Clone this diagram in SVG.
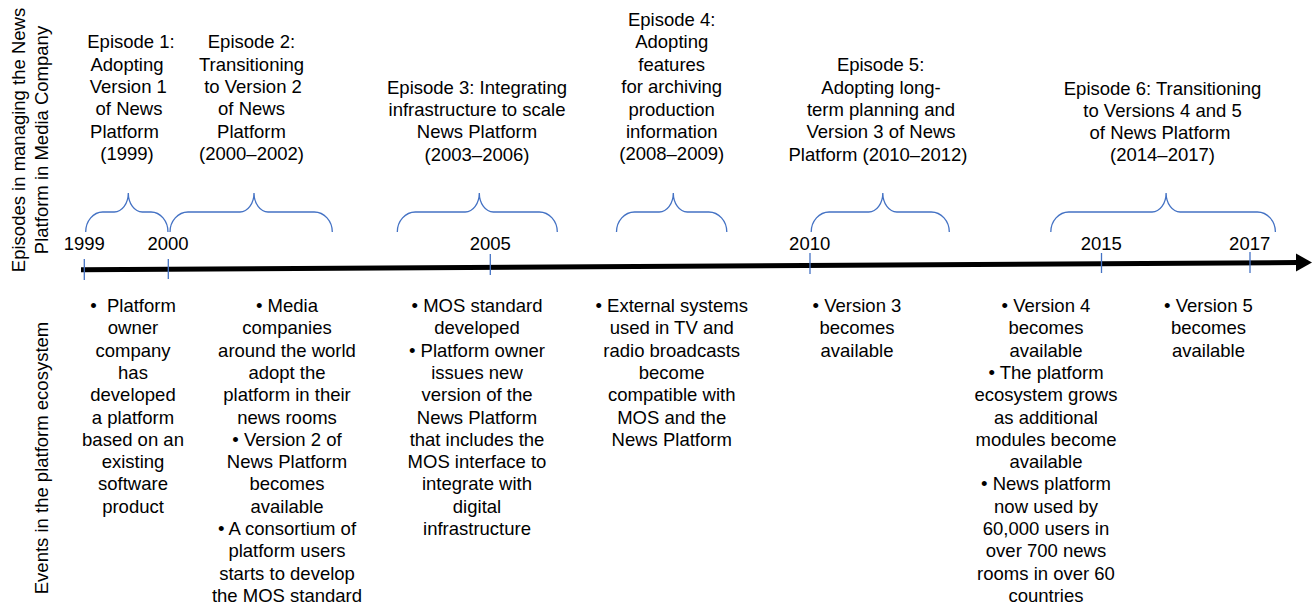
<svg xmlns="http://www.w3.org/2000/svg" width="1312" height="605" viewBox="0 0 1312 605">
<style>
text{font-family:"Liberation Sans",Arial,sans-serif;font-size:18.5px;fill:#000;text-anchor:middle}
.brace{fill:none;stroke:#4472C4;stroke-width:1.3}
.tick{stroke:#4472C4;stroke-width:1.3}
</style>
<rect width="1312" height="605" fill="#fff"/>
<g id="axis-labels">
<text transform="translate(25,140) rotate(-90)">Episodes in managing the News</text>
<text transform="translate(48,140) rotate(-90)">Platform in Media Company</text>
<text transform="translate(48,458) rotate(-90)">Events in the platform ecosystem</text>
</g>
<g id="connectors">
<line x1="81" y1="269.8" x2="1298" y2="262.6" stroke="#000" stroke-width="5"/>
<polygon points="1296,253.5 1312,262.5 1296,271.5" fill="#000"/>
<line class="tick" x1="84.3" y1="259" x2="84.3" y2="280"/>
<line class="tick" x1="168.3" y1="259" x2="168.3" y2="279"/>
<line class="tick" x1="490.3" y1="254" x2="490.3" y2="275"/>
<line class="tick" x1="810" y1="253" x2="810" y2="274"/>
<line class="tick" x1="1101.5" y1="253" x2="1101.5" y2="273"/>
<line class="tick" x1="1250" y1="252" x2="1250" y2="273"/>
</g>
<g id="years">
<text x="84.3" y="250">1999</text>
<text x="168" y="250">2000</text>
<text x="490.3" y="250">2005</text>
<text x="809.7" y="250">2010</text>
<text x="1101.3" y="250">2015</text>
<text x="1249.7" y="250">2017</text>
</g>
<g id="episode1">
<path class="brace" d="M85.7,232 A17,20 0 0 1 102.7,212 L114.3,212 A14,19 0 0 0 128.3,193 A14,19 0 0 0 142.3,212 L151,212 A17,20 0 0 1 168,232"/>
<text y="48.3"><tspan x="131">Episode 1:</tspan><tspan x="127" dy="22.3">Adopting</tspan><tspan x="128.3" dy="22.3">Version 1</tspan><tspan x="129" dy="22.3">of News</tspan><tspan x="124.5" dy="22.3">Platform</tspan><tspan x="127" dy="22.3">(1999)</tspan></text>
</g>
<g id="episode2">
<path class="brace" d="M170,232 A18,20 0 0 1 188,212 L240,212 A14,19 0 0 0 254,193 A14,19 0 0 0 268,212 L314.3,212 A18,20 0 0 1 332.3,232"/>
<text y="48.3"><tspan x="251.5">Episode 2:</tspan><tspan x="251.5" dy="22.3">Transitioning</tspan><tspan x="253" dy="22.3">to Version 2</tspan><tspan x="251.5" dy="22.3">of News</tspan><tspan x="251.5" dy="22.3">Platform</tspan><tspan x="251.5" dy="22.3">(2000–2002)</tspan></text>
</g>
<g id="episode3">
<path class="brace" d="M397.3,232 A18,20 0 0 1 415.3,212 L465.3,212 A14,19 0 0 0 479.3,193 A14,19 0 0 0 493.3,212 L539.3,212 A18,20 0 0 1 557.3,232"/>
<text y="93.6"><tspan x="477">Episode 3: Integrating</tspan><tspan x="477" dy="22.3">infrastructure to scale</tspan><tspan x="477" dy="22.3">News Platform</tspan><tspan x="477" dy="22.3">(2003–2006)</tspan></text>
</g>
<g id="episode4">
<path class="brace" d="M616.5,232 A18,20 0 0 1 634.5,212 L659.3,212 A14,19 0 0 0 673.3,193 A14,19 0 0 0 687.3,212 L708.8,212 A18,20 0 0 1 726.8,232"/>
<text y="26"><tspan x="671.7">Episode 4:</tspan><tspan x="671.7" dy="22.4">Adopting</tspan><tspan x="671.7" dy="22.4">features</tspan><tspan x="671.7" dy="22.4">for archiving</tspan><tspan x="671.7" dy="22.4">production</tspan><tspan x="671.7" dy="22.4">information</tspan><tspan x="671.7" dy="22.4">(2008–2009)</tspan></text>
</g>
<g id="episode5">
<path class="brace" d="M811.2,232 A18,20 0 0 1 829.2,212 L868.8,212 A14,19 0 0 0 882.8,193 A14,19 0 0 0 896.8,212 L931.3,212 A18,20 0 0 1 949.3,232"/>
<text y="71.3"><tspan x="880.6">Episode 5:</tspan><tspan x="881" dy="22.3">Adopting long-</tspan><tspan x="881" dy="22.3">term planning and</tspan><tspan x="881" dy="22.3">Version 3 of News</tspan><tspan x="878" dy="22.3">Platform (2010–2012)</tspan></text>
</g>
<g id="episode6">
<path class="brace" d="M1050.8,232 A18,20 0 0 1 1068.8,212 L1152.1,212 A14,19 0 0 0 1166.1,193 A14,19 0 0 0 1180.1,212 L1257.4,212 A18,20 0 0 1 1275.4,232"/>
<text y="94.5"><tspan x="1162.5">Episode 6: Transitioning</tspan><tspan x="1162.5" dy="22.3">to Versions 4 and 5</tspan><tspan x="1160" dy="22.3">of News Platform</tspan><tspan x="1162.5" dy="22.3">(2014–2017)</tspan></text>
</g>
<g id="events1999">
<text y="312"><tspan x="133">•&#160; Platform</tspan><tspan x="133" dy="22.3">owner</tspan><tspan x="133" dy="22.3">company</tspan><tspan x="133" dy="22.3">has</tspan><tspan x="133" dy="22.3">developed</tspan><tspan x="133" dy="22.3">a platform</tspan><tspan x="133" dy="22.3">based on an</tspan><tspan x="133" dy="22.3">existing</tspan><tspan x="133" dy="22.3">software</tspan><tspan x="133" dy="22.3">product</tspan></text>
</g>
<g id="events2000">
<text y="312"><tspan x="287">• Media</tspan><tspan x="287" dy="22.3">companies</tspan><tspan x="287" dy="22.3">around the world</tspan><tspan x="287" dy="22.3">adopt the</tspan><tspan x="287" dy="22.3">platform in their</tspan><tspan x="287" dy="22.3">news rooms</tspan><tspan x="287" dy="22.3">• Version 2 of</tspan><tspan x="287" dy="22.3">News Platform</tspan><tspan x="287" dy="22.3">becomes</tspan><tspan x="287" dy="22.3">available</tspan><tspan x="287" dy="22.3">• A consortium of</tspan><tspan x="287" dy="22.3">platform users</tspan><tspan x="287" dy="22.3">starts to develop</tspan><tspan x="287" dy="22.3">the MOS standard</tspan></text>
</g>
<g id="events2005">
<text y="312"><tspan x="477">• MOS standard</tspan><tspan x="477" dy="22.3">developed</tspan><tspan x="477" dy="22.3">• Platform owner</tspan><tspan x="477" dy="22.3">issues new</tspan><tspan x="477" dy="22.3">version of the</tspan><tspan x="477" dy="22.3">News Platform</tspan><tspan x="477" dy="22.3">that includes the</tspan><tspan x="477" dy="22.3">MOS interface to</tspan><tspan x="477" dy="22.3">integrate with</tspan><tspan x="477" dy="22.3">digital</tspan><tspan x="477" dy="22.3">infrastructure</tspan></text>
</g>
<g id="events2008">
<text y="312"><tspan x="671.7">• External systems</tspan><tspan x="671.7" dy="22.3">used in TV and</tspan><tspan x="671.7" dy="22.3">radio broadcasts</tspan><tspan x="671.7" dy="22.3">become</tspan><tspan x="671.7" dy="22.3">compatible with</tspan><tspan x="671.7" dy="22.3">MOS and the</tspan><tspan x="671.7" dy="22.3">News Platform</tspan></text>
</g>
<g id="events2010">
<text y="312"><tspan x="857">• Version 3</tspan><tspan x="857" dy="22.3">becomes</tspan><tspan x="857" dy="22.3">available</tspan></text>
</g>
<g id="events2015">
<text y="312"><tspan x="1046">• Version 4</tspan><tspan x="1046" dy="22.3">becomes</tspan><tspan x="1046" dy="22.3">available</tspan><tspan x="1046" dy="22.3">• The platform</tspan><tspan x="1046" dy="22.3">ecosystem grows</tspan><tspan x="1046" dy="22.3">as additional</tspan><tspan x="1046" dy="22.3">modules become</tspan><tspan x="1046" dy="22.3">available</tspan><tspan x="1046" dy="22.3">• News platform</tspan><tspan x="1046" dy="22.3">now used by</tspan><tspan x="1046" dy="22.3">60,000 users in</tspan><tspan x="1046" dy="22.3">over 700 news</tspan><tspan x="1046" dy="22.3">rooms in over 60</tspan><tspan x="1046" dy="22.3">countries</tspan></text>
</g>
<g id="events2017">
<text y="312"><tspan x="1208.5">• Version 5</tspan><tspan x="1208.5" dy="22.3">becomes</tspan><tspan x="1208.5" dy="22.3">available</tspan></text>
</g>
</svg>
